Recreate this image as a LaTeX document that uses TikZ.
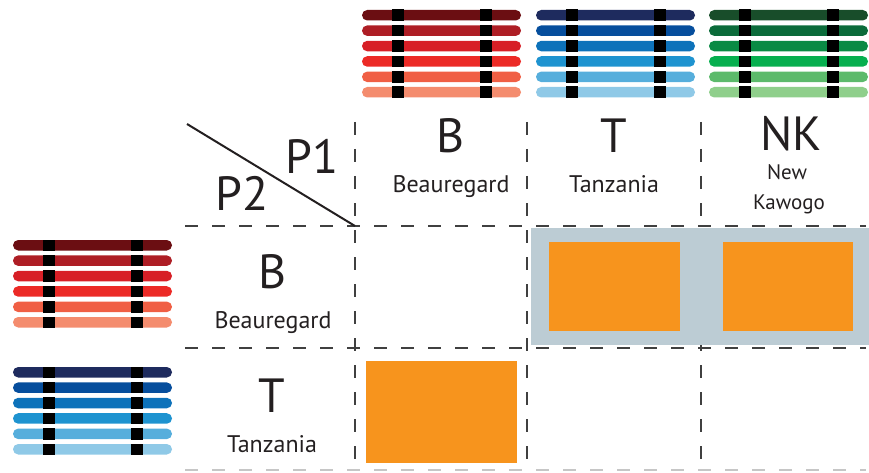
\documentclass[tikz,border=0pt]{standalone}
\usepackage{fontspec}
\setmainfont{PT Sans}

% chromosome shades
\definecolor{chrR1}{HTML}{6B0E12}
\definecolor{chrR2}{HTML}{AE1E25}
\definecolor{chrR3}{HTML}{D71F26}
\definecolor{chrR4}{HTML}{EC2A26}
\definecolor{chrR5}{HTML}{F05F44}
\definecolor{chrR6}{HTML}{F48C6E}
\definecolor{chrB1}{HTML}{1E2B5E}
\definecolor{chrB2}{HTML}{064E9D}
\definecolor{chrB3}{HTML}{0D72BA}
\definecolor{chrB4}{HTML}{1E93D0}
\definecolor{chrB5}{HTML}{56AEDC}
\definecolor{chrB6}{HTML}{8FC9E7}
\definecolor{chrG1}{HTML}{184D2A}
\definecolor{chrG2}{HTML}{0B6B3A}
\definecolor{chrG3}{HTML}{0A8A44}
\definecolor{chrG4}{HTML}{07AF4F}
\definecolor{chrG5}{HTML}{5CBA6B}
\definecolor{chrG6}{HTML}{8FCF8B}
\definecolor{gridgray}{HTML}{404040}
\definecolor{hitbg}{HTML}{BCCCD4}
\definecolor{hitorange}{HTML}{F7941D}
\definecolor{ink}{HTML}{231F20}

\begin{document}
\begin{tikzpicture}[x=1pt,y=-1pt,
  grid/.style={dash pattern=on 13pt off 14pt, line width=2pt, color=gridgray},
  big/.style={font=\fontsize{48}{48}\selectfont, anchor=base, inner sep=0pt},
  small/.style={font=\fontsize{24}{26}\selectfont, anchor=base, inner sep=0pt},
  smaller/.style={font=\fontsize{21}{24}\selectfont, anchor=base, inner sep=0pt},
  hit/.style={fill=hitorange, inner sep=0pt},
  every node/.style={text=ink}]

\useasboundingbox (0,0) rectangle (869,473);

% chromosome stacks: top for P1, left for P2
\foreach \sx/\sy/\pal in {362/10/chrR, 536/10/chrB, 709/10/chrG, 13/240/chrR, 13/367/chrB} {
  \foreach \i in {1,...,6} {
    \fill[fill=\pal\i, rounded corners=5.2pt] ({\sx},{\sy+(\i-1)*15.4}) rectangle ++(159,10.5);
    \fill[black] ({\sx+30},{\sy+(\i-1)*15.4-0.5}) rectangle ++(11.5,11.5);
    \fill[black] ({\sx+118},{\sy+(\i-1)*15.4-0.5}) rectangle ++(11.5,11.5);
  }
}

% grid
\coordinate (diag) at (187,124);
\coordinate (corner) at (355,226);
\coordinate (rowtopL) at (185,226);
\coordinate (rowtopR) at (866,226);
\coordinate (rowmidL) at (185,348);
\coordinate (rowmidR) at (866,348);
\coordinate (rowbotL) at (185,470);
\coordinate (rowbotR) at (866,470);
\coordinate (colB) at (355,122);
\coordinate (colBend) at (355,473);
\coordinate (colT) at (527,122);
\coordinate (colTend) at (527,473);
\coordinate (colNK) at (701,122);
\coordinate (colNKend) at (701,473);

\draw[grid] (rowtopL) -- (rowtopR);
\draw[grid] (rowmidL) -- (rowmidR);
\draw[grid, color=gray!45] (rowbotL) -- (rowbotR);
\draw[grid] (colB) -- (colBend);
\draw[grid] (colT) -- (colTend);
\draw[grid] (colNK) -- (colNKend);
\draw[line width=2pt, ink] (diag) -- (corner);

% crosses that work
\fill[hitbg] (531,228) rectangle (869,345);
\node[hit, minimum width=131pt, minimum height=89pt] (hitBT) at (614.5,286.5) {};
\node[hit, minimum width=130pt, minimum height=89pt] (hitBNK) at (788,286.5) {};
\node[hit, minimum width=151pt, minimum height=102pt] (hitTB) at (441.5,412) {};

% labels
\node[big] (p1) at (312,173) {P1};
\node[big] (p2) at (242,210) {P2};

\node[big] (headB) at (451,153) {B};
\node[small] (nameB) at (451,193) {Beauregard};
\node[big] (headT) at (614,153) {T};
\node[small] (nameT) at (614,193) {Tanzania};
\node[big] (headNK) at (791,151) {NK};
\node[smaller] (nameNK1) at (787,179) {New};
\node[smaller] (nameNK2) at (789,209) {Kawogo};

\node[big] (rowB) at (273,288) {B};
\node[small] (rowBname) at (273,328) {Beauregard};
\node[big] (rowT) at (272,412) {T};
\node[small] (rowTname) at (272,452) {Tanzania};

\end{tikzpicture}
\end{document}
